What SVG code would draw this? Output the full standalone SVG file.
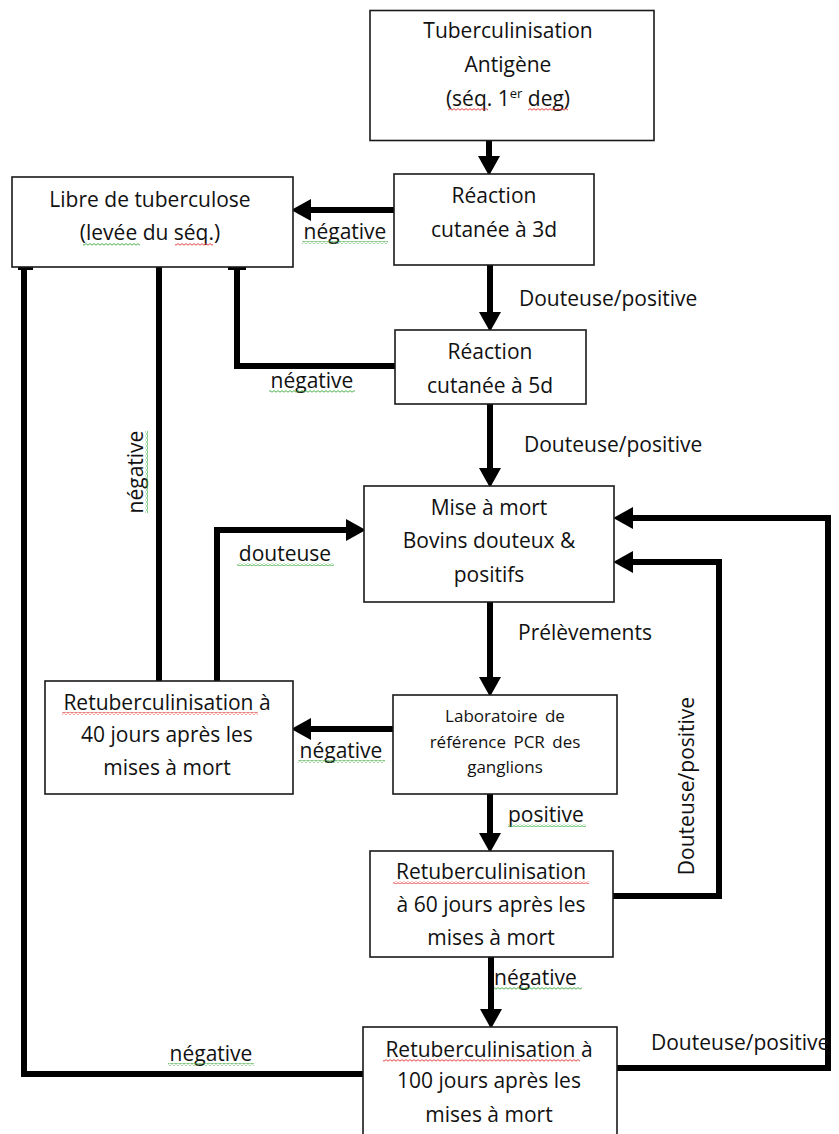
<svg xmlns="http://www.w3.org/2000/svg" width="839" height="1134" viewBox="0 0 839 1134">
<style>
.box{fill:#fff;stroke:#1a1a1a;stroke-width:1.6}
.t{font-family:"Open Sans","Liberation Sans",sans-serif;font-size:21px;fill:#111;text-anchor:middle}
.s{font-size:17px;word-spacing:3px}
.l{font-family:"Open Sans","Liberation Sans",sans-serif;font-size:21px;fill:#111}
.c{fill:none;stroke:#000;stroke-width:6;stroke-linejoin:miter;stroke-linecap:butt}
.a{marker-end:url(#ah)}
.tick{stroke:#000;stroke-width:3}
</style>
<defs>
<marker id="ah" markerUnits="userSpaceOnUse" markerWidth="20" markerHeight="22" refX="0" refY="10" orient="auto" viewBox="0 0 18 20">
<path d="M0,0 L18,10 L0,20 z" fill="#000"/>
</marker>
<pattern id="wr" width="4" height="3" patternUnits="userSpaceOnUse">
<path d="M0,2.2 L2,0.6 L4,2.2" fill="none" stroke="#e03030" stroke-width="0.9"/>
</pattern>
<pattern id="wg" width="4" height="3" patternUnits="userSpaceOnUse">
<path d="M0,2.2 L2,0.6 L4,2.2" fill="none" stroke="#3aa63a" stroke-width="0.9"/>
</pattern>
</defs>
<rect width="839" height="1134" fill="#fff"/>

<g id="connectors">
<path class="c a" d="M489,141 V156"/>
<path class="c a" d="M394,210 H311"/>
<path class="c a" d="M490,265 V312"/>
<path class="c" d="M395,366 H237 V267"/>
<path class="c a" d="M490,404 V468"/>
<path class="c a" d="M490,602 V677"/>
<path class="c a" d="M393,729 H311"/>
<path class="c" d="M159,681 V267"/>
<path class="c a" d="M217,681 V530 H346"/>
<path class="c a" d="M490,794 V833"/>
<path class="c a" d="M613,896 H719 V562 H633"/>
<path class="c a" d="M491,957 V1009"/>
<path class="c" d="M363,1074 H24 V267"/>
<path class="c a" d="M617,1068 H828 V518 H633"/>
<path class="tick" d="M228,268.5 H246 M18,268.5 H33"/>
</g>

<g id="edge-labels">
<text class="l" x="345" y="239" text-anchor="middle">négative</text>
<rect x="302" y="241" width="86" height="3" fill="url(#wg)"/>
<text class="l" x="519" y="306">Douteuse/positive</text>
<text class="l" x="312" y="388" text-anchor="middle">négative</text>
<rect x="269" y="390" width="86" height="3" fill="url(#wg)"/>
<text class="l" x="524" y="452">Douteuse/positive</text>
<text class="l" x="518" y="640">Prélèvements</text>
<g transform="translate(143,472) rotate(-90)">
<text class="l" x="0" y="0" text-anchor="middle">négative</text>
<rect x="-41" y="2" width="82" height="3" fill="url(#wg)"/>
</g>
<text class="l" x="285" y="561" text-anchor="middle">douteuse</text>
<rect x="237" y="563" width="97" height="3" fill="url(#wg)"/>
<text class="l" x="341" y="758" text-anchor="middle">négative</text>
<rect x="298" y="760" width="87" height="3" fill="url(#wg)"/>
<text class="l" x="508" y="822">positive</text>
<rect x="508" y="824" width="78" height="3" fill="url(#wg)"/>
<g transform="translate(694,786) rotate(-90)">
<text class="l" x="0" y="0" text-anchor="middle">Douteuse/positive</text>
</g>
<text class="l" x="494" y="985">négative</text>
<rect x="494" y="987" width="88" height="3" fill="url(#wg)"/>
<text class="l" x="211" y="1061" text-anchor="middle">négative</text>
<rect x="168" y="1063" width="86" height="3" fill="url(#wg)"/>
<text class="l" x="651" y="1050">Douteuse/positive</text>
</g>

<g id="n-tuberculinisation">
<rect class="box" x="370" y="10.5" width="284" height="130"/>
<text class="t" x="508" y="38">Tuberculinisation</text>
<text class="t" x="508" y="72">Antigène</text>
<text class="t" x="508" y="106">(séq. 1<tspan font-size="13" dy="-8">er</tspan><tspan dy="8"> deg)</tspan></text>
<rect x="448" y="108" width="40" height="3" fill="url(#wr)"/>
<rect x="528" y="108" width="40" height="3" fill="url(#wr)"/>
</g>

<g id="n-reaction3d">
<rect class="box" x="394" y="174" width="200" height="91"/>
<text class="t" x="494" y="203">Réaction</text>
<text class="t" x="494" y="237">cutanée à 3d</text>
</g>

<g id="n-libre">
<rect class="box" x="12" y="177" width="281" height="90"/>
<text class="t" x="150" y="207">Libre de tuberculose</text>
<text class="t" x="150" y="240">(levée du séq.)</text>
<rect x="83" y="243" width="57" height="3" fill="url(#wg)"/>
<rect x="175" y="243" width="38" height="3" fill="url(#wr)"/>
</g>

<g id="n-reaction5d">
<rect class="box" x="395" y="330" width="191" height="74"/>
<text class="t" x="490" y="359">Réaction</text>
<text class="t" x="490" y="393">cutanée à 5d</text>
</g>

<g id="n-mise">
<rect class="box" x="364" y="486" width="250" height="116"/>
<text class="t" x="489" y="515">Mise à mort</text>
<text class="t" x="489" y="548">Bovins douteux &amp;</text>
<text class="t" x="489" y="582">positifs</text>
</g>

<g id="n-labo">
<rect class="box" x="393" y="695" width="224" height="99"/>
<text class="t s" x="505" y="722">Laboratoire de</text>
<text class="t s" x="505" y="748">référence PCR des</text>
<text class="t s" x="505" y="773">ganglions</text>
</g>

<g id="n-ret40">
<rect class="box" x="45" y="681" width="248" height="113"/>
<text class="t" x="167" y="710">Retuberculinisation à</text>
<text class="t" x="167" y="742">40 jours après les</text>
<text class="t" x="167" y="775">mises à mort</text>
<rect x="62" y="712" width="196" height="3" fill="url(#wr)"/>
</g>

<g id="n-ret60">
<rect class="box" x="370" y="851" width="243" height="106"/>
<text class="t" x="491" y="879">Retuberculinisation</text>
<text class="t" x="491" y="912">à 60 jours après les</text>
<text class="t" x="491" y="945">mises à mort</text>
<rect x="393" y="881" width="196" height="3" fill="url(#wr)"/>
</g>

<g id="n-ret100">
<rect class="box" x="363" y="1027" width="254" height="120"/>
<text class="t" x="489" y="1057">Retuberculinisation à</text>
<text class="t" x="489" y="1088">100 jours après les</text>
<text class="t" x="489" y="1122">mises à mort</text>
<rect x="383" y="1059" width="197" height="3" fill="url(#wr)"/>
</g>
</svg>
